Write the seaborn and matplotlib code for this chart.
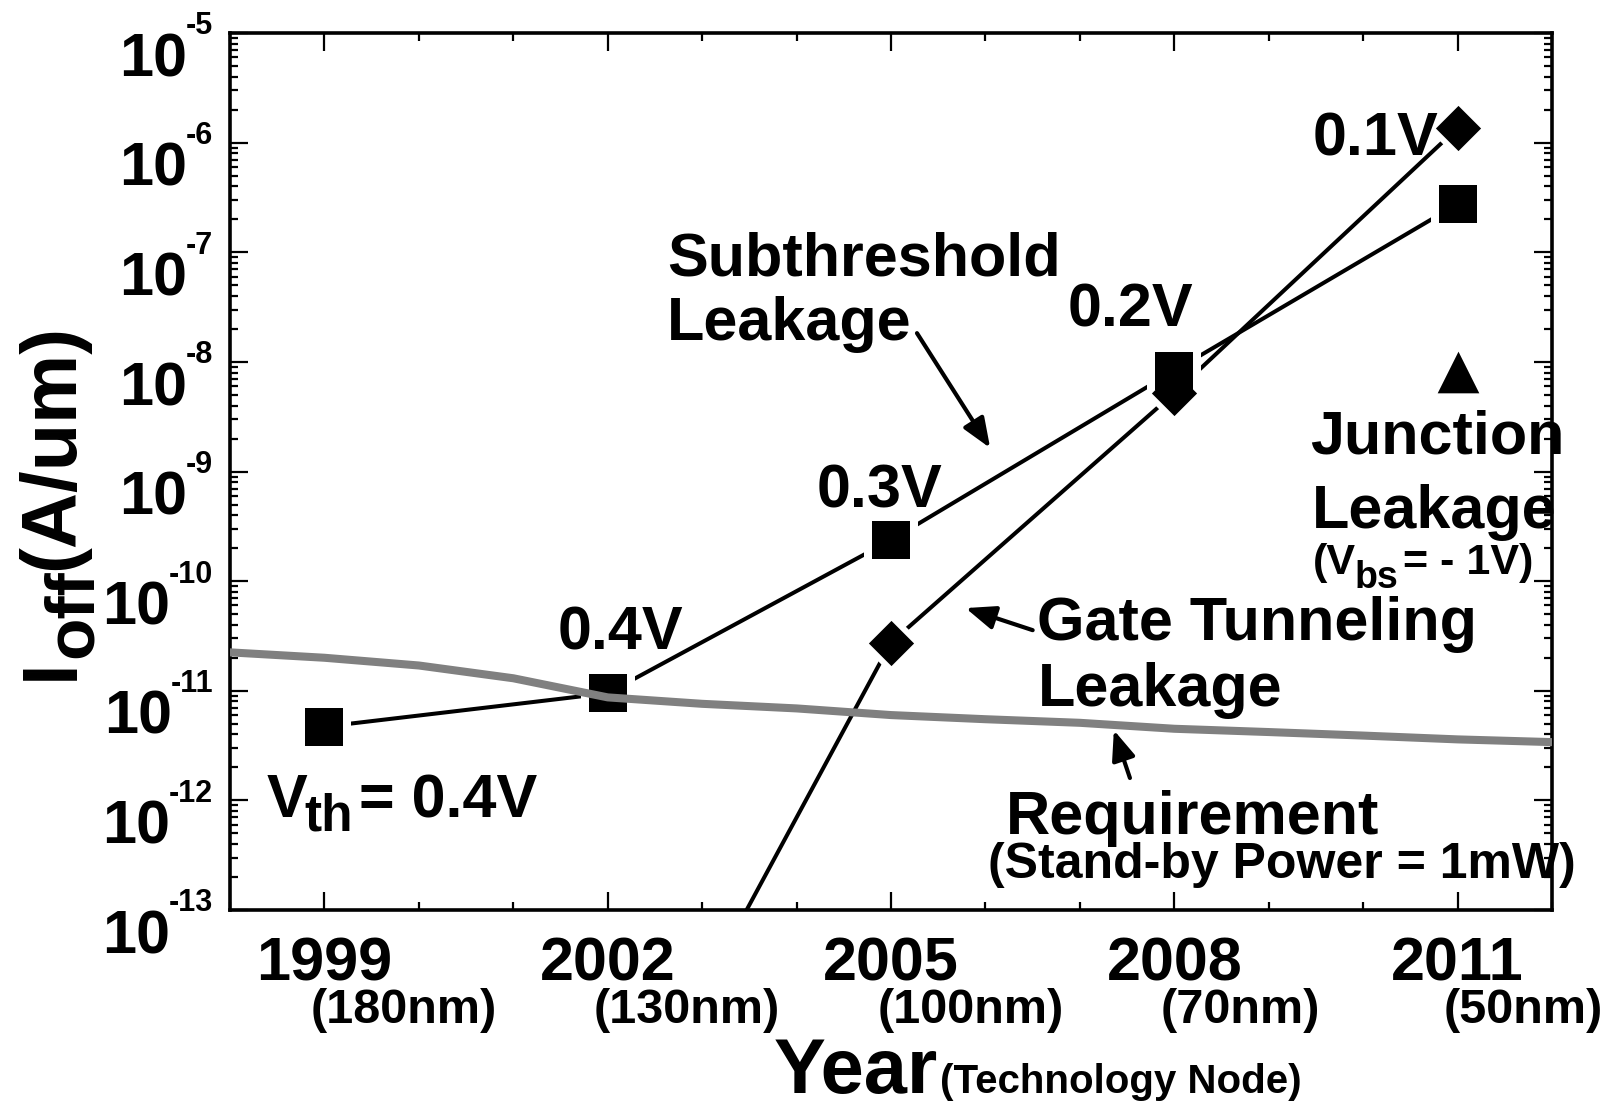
import matplotlib
matplotlib.use("Agg")
import matplotlib.pyplot as plt
import matplotlib.ticker as mticker
import seaborn as sns
import pandas as pd

# --- data ---
years = [1999, 2002, 2005, 2008, 2011]
year_labels = ["1999", "2002", "2005", "2008", "2011"]
node_labels = ["(180nm)", "(130nm)", "(100nm)", "(70nm)", "(50nm)"]

subthreshold = [4.7e-12, 9.5e-12, 2.37e-10, 8.3e-9, 2.76e-7]

gate_years = [2002, 2005, 2008, 2011]
gate_tunneling = [4.5e-16, 2.75e-11, 5.2e-9, 1.36e-6]

junction_year = [2011]
junction = [8.1e-9]

req_years = [1998, 1999, 2000, 2001, 2002, 2003, 2004, 2005, 2006, 2007,
             2008, 2009, 2010, 2011, 2012]
requirement = [2.24e-11, 2.0e-11, 1.7e-11, 1.3e-11, 8.7e-12, 7.6e-12,
               6.9e-12, 6.0e-12, 5.5e-12, 5.1e-12, 4.5e-12, 4.2e-12,
               3.9e-12, 3.6e-12, 3.4e-12]

decades = [-5, -6, -7, -8, -9, -10, -11, -12, -13]

sns.set_theme(style="ticks")
plt.rcParams["font.family"] = ["Liberation Sans", "DejaVu Sans"]
plt.rcParams["font.weight"] = "bold"
plt.rcParams.update({"text.color": "black", "axes.labelcolor": "black",
                     "xtick.color": "black", "ytick.color": "black"})

fig = plt.figure(figsize=(16.05, 11.10), dpi=100)
ax = fig.add_axes([0.1433, 0.1802, 0.8237, 0.7900])
ax.set_yscale("log")

sub_df = pd.DataFrame({"year": years, "ioff": subthreshold})
gate_df = pd.DataFrame({"year": gate_years, "ioff": gate_tunneling})
req_df = pd.DataFrame({"year": req_years, "ioff": requirement})

# black connecting lines
sns.lineplot(data=sub_df, x="year", y="ioff", ax=ax, color="black", lw=2.9, zorder=2)
sns.lineplot(data=gate_df, x="year", y="ioff", ax=ax, color="black", lw=2.9, zorder=2)

# white halos so lines stop short of the markers
sns.scatterplot(data=sub_df, x="year", y="ioff", ax=ax, marker="s", s=1500,
                color="white", linewidth=0, zorder=3)
sns.scatterplot(data=gate_df, x="year", y="ioff", ax=ax, marker="D", s=1000,
                color="white", linewidth=0, zorder=3)

# markers
sns.scatterplot(data=sub_df, x="year", y="ioff", ax=ax, marker="s", s=750,
                color="black", linewidth=0, zorder=4)
sns.scatterplot(data=gate_df, x="year", y="ioff", ax=ax, marker="D", s=530,
                color="black", linewidth=0, zorder=4)
sns.scatterplot(x=junction_year, y=junction, ax=ax, marker="^", s=900,
                color="black", linewidth=0, zorder=4)

# stand-by requirement
sns.lineplot(data=req_df, x="year", y="ioff", ax=ax, color="#808080", lw=5.8, zorder=5)

ax.set_xlim(1998, 2012)
ax.set_ylim(1e-13, 1e-5)

# axes styling
for sp in ax.spines.values():
    sp.set_linewidth(2.6)
    sp.set_color("black")
ax.set_xticks(years)
ax.set_xticklabels(year_labels, fontsize=44, fontweight="bold")
ax.xaxis.set_minor_locator(mticker.MultipleLocator(1))
ax.set_yticks([10.0 ** d for d in decades])
ax.yaxis.set_minor_locator(mticker.LogLocator(base=10, subs=range(2, 10), numticks=50))
ax.yaxis.set_minor_formatter(mticker.NullFormatter())
ax.tick_params(which="both", direction="in", top=True, right=True,
               color="black", width=1.6, labelleft=False)
ax.tick_params(which="major", length=13)
ax.tick_params(which="minor", length=6)
ax.tick_params(axis="x", which="major", pad=19)
ax.set_xlabel("")
ax.set_ylabel("")
ax.grid(False)

# y tick labels: 10 with small exponent
for d in decades:
    ex = ax.annotate(f"-{abs(d)}", xy=(0, 10.0 ** d), xycoords=("axes fraction", "data"),
                     xytext=(-12, -1), textcoords="offset points",
                     ha="right", va="baseline", fontsize=22, fontweight="bold")
    ax.annotate("10", xy=(0, 0), xycoords=ex, xytext=(1, -25), textcoords="offset points",
                ha="right", va="baseline", fontsize=44, fontweight="bold",
                annotation_clip=False)

# technology node labels under the years
for yr, lab in zip(years, node_labels):
    ax.annotate(lab, xy=(yr, 0), xycoords=("data", "axes fraction"),
                xytext=(-10, -56), textcoords="offset points",
                ha="left", va="top", fontsize=35, fontweight="bold")

# axis titles
yr_txt = ax.annotate("Year", xy=(0.4115, -0.2087), xycoords="axes fraction",
                     ha="left", va="baseline", fontsize=56, fontweight="bold")
ax.annotate("(Technology Node)", xy=(1, -0.2087), xycoords=(yr_txt, "axes fraction"),
            xytext=(1, 0), textcoords="offset points", ha="left", va="baseline",
            fontsize=29, fontweight="bold")

i_txt = ax.annotate("I", xy=(-0.1066, 0.2623), xycoords="axes fraction",
                    rotation=90, ha="right", va="bottom", fontsize=56, fontweight="bold")
off_txt = ax.annotate("off", xy=(1, 1), xycoords=i_txt, xytext=(12, 0),
                      textcoords="offset points", rotation=90, ha="right", va="bottom",
                      fontsize=50, fontweight="bold")
ax.annotate("(A/um)", xy=(1, 1), xycoords=(i_txt, off_txt), rotation=90,
            ha="right", va="bottom", fontsize=56, fontweight="bold")


def sub_label(x, y, head, sub, tail, size, sub_size, drop, kern, gap):
    t1 = ax.text(x, y, head, fontsize=size, fontweight="bold", ha="left", va="baseline")
    t2 = ax.annotate(sub, xy=(1, y), xycoords=(t1, "data"), xytext=(kern, -drop),
                     textcoords="offset points", fontsize=sub_size, fontweight="bold",
                     ha="left", va="baseline")
    ax.annotate(tail, xy=(1, y), xycoords=(t2, "data"), xytext=(gap, 0),
                textcoords="offset points", fontsize=size, fontweight="bold",
                ha="left", va="baseline")


# in-plot annotations
big = dict(fontsize=44, fontweight="bold", ha="left", va="baseline")
ax.text(2002.63, 6.19e-8, "Subthreshold", **big)
ax.text(2002.63, 1.58e-8, "Leakage", **big)
ax.text(2004.21, 4.73e-10, "0.3V", **big)
ax.text(2001.47, 2.4e-11, "0.4V", **big)
ax.text(2006.87, 2.09e-8, "0.2V", **big)
ax.text(2009.47, 7.7e-7, "0.1V", **big)
sub_label(1998.39, 7.03e-13, "V", "th", "= 0.4V", 44, 37, 9.5, -2, 4)
ax.text(2006.55, 2.9e-11, "Gate Tunneling", **big)
ax.text(2006.55, 7.24e-12, "Leakage", **big)
ax.text(2006.22, 4.9e-13, "Requirement", **big)
ax.text(2006.03, 1.94e-13, "(Stand-by Power = 1mW)", fontsize=36, fontweight="bold",
        ha="left", va="baseline")
ax.text(2009.44, 1.47e-9, "Junction", **big)
ax.text(2009.46, 3.05e-10, "Leakage", **big)
sub_label(2009.47, 1.15e-10, "(V", "bs", "= - 1V)", 31, 27, 10, -1, 3)

arrow = dict(arrowstyle="-|>,head_length=0.45,head_width=0.18", color="black", lw=3,
             mutation_scale=40, shrinkA=0, shrinkB=0)
ax.annotate("", xy=(2006.05, 1.64e-9), xytext=(2005.275, 1.83e-8), arrowprops=arrow)
ax.annotate("", xy=(2005.79, 5.68e-11), xytext=(2006.50, 3.57e-11), arrowprops=arrow)
ax.annotate("", xy=(2007.36, 4.37e-12), xytext=(2007.53, 1.6e-12), arrowprops=arrow)

plt.savefig("out.png", dpi=100)
